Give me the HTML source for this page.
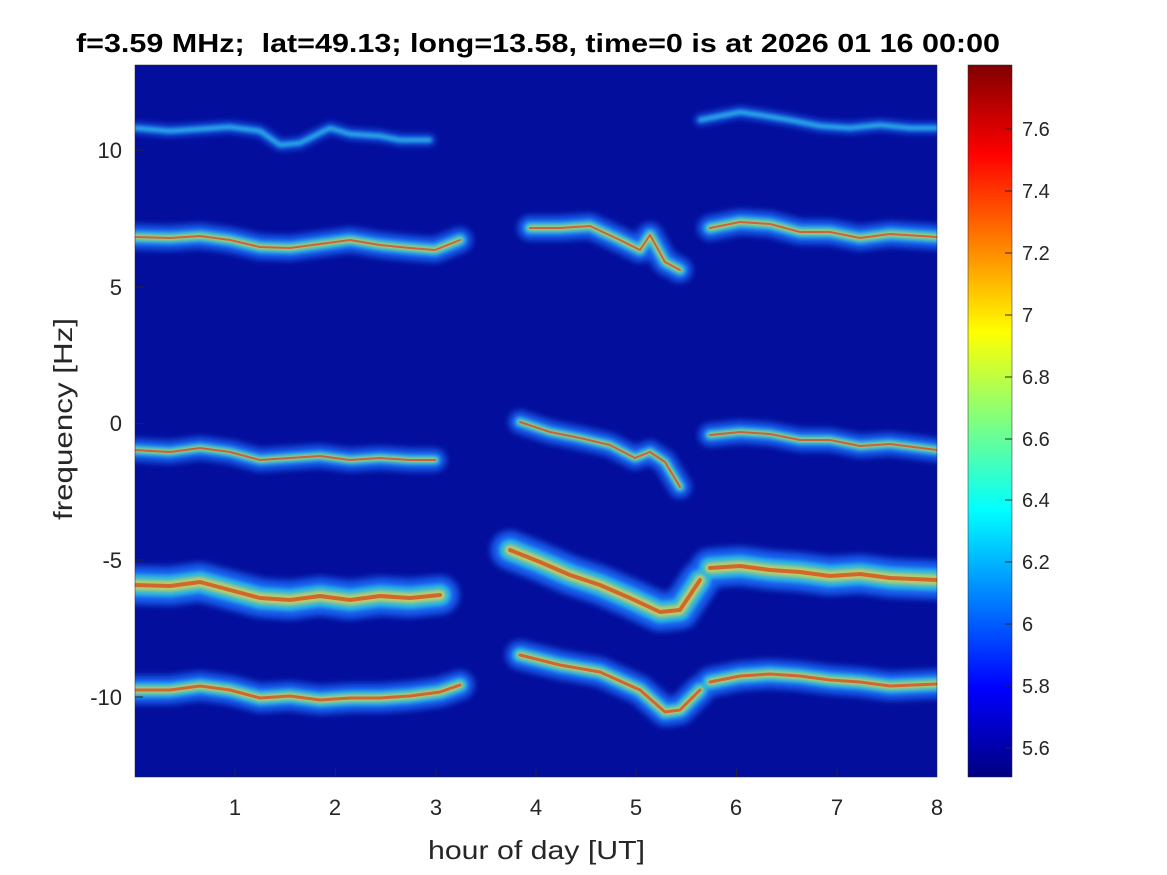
<!DOCTYPE html>
<html><head><meta charset="utf-8"><style>
body{margin:0;background:#fff;}
svg{display:block;font-family:"Liberation Sans",sans-serif;}
</style></head><body>
<svg width="1167" height="875" viewBox="0 0 1167 875">
<defs>
<filter id="b1" x="-10%" y="-50%" width="120%" height="200%"><feGaussianBlur stdDeviation="3.5"/></filter>
<filter id="b2" x="-10%" y="-50%" width="120%" height="200%"><feGaussianBlur stdDeviation="1.8"/></filter>
<linearGradient id="jet" x1="0" y1="1" x2="0" y2="0">
<stop offset="0" stop-color="#000080"/>
<stop offset="0.125" stop-color="#0000ff"/>
<stop offset="0.375" stop-color="#00ffff"/>
<stop offset="0.625" stop-color="#ffff00"/>
<stop offset="0.875" stop-color="#ff0000"/>
<stop offset="1" stop-color="#800000"/>
</linearGradient>
<clipPath id="c"><rect x="135" y="65" width="802" height="712"/></clipPath>
<g id="t1"><path d="M135,128 L170,131 L200,129 L230,127 L260,131 L280,145 L300,143 L330,128 L350,134 L380,136 L400,140 L430,140 M700,120 L740,112 L760,115 L790,120 L820,126 L850,128 L880,125 L910,128 L937,128"/></g>
<g id="t2"><path d="M135,237 L170,238 L200,236 L230,240 L260,247 L290,248 L320,244 L350,240 L380,245 L410,248 L435,250 L460,240 M530,228 L560,228 L590,226 L620,240 L640,250 L650,235 L665,262 L680,270 M710,228 L740,222 L770,224 L800,232 L830,232 L860,238 L890,234 L937,237"/></g>
<g id="t3"><path d="M135,450 L170,452 L200,448 L230,452 L260,460 L290,458 L320,456 L350,460 L380,458 L410,460 L435,460 M520,422 L550,432 L580,438 L610,445 L635,458 L650,452 L665,462 L680,487 M710,435 L740,432 L770,434 L800,440 L830,440 L860,446 L890,444 L937,450"/></g>
<g id="t4"><path d="M135,585 L170,586 L200,582 L230,590 L260,598 L290,600 L320,596 L350,600 L380,596 L410,598 L440,595 M510,550 L540,562 L570,575 L600,585 L630,598 L660,612 L680,610 L700,580 M710,568 L740,566 L770,570 L800,572 L830,576 L860,574 L890,578 L937,580"/></g>
<g id="t5"><path d="M135,690 L170,690 L200,686 L230,690 L260,698 L290,696 L320,700 L350,698 L380,698 L410,696 L440,692 L460,685 M520,655 L560,665 L600,672 L640,690 L665,712 L680,710 L700,690 M710,682 L740,676 L770,674 L800,676 L830,680 L860,682 L890,686 L937,684"/></g>
</defs>
<rect x="135" y="65" width="802" height="712" fill="#040e9c"/>
<g clip-path="url(#c)" fill="none" stroke-linecap="round" stroke-linejoin="round">
<g filter="url(#b1)" stroke="#1e6fff" opacity="0.85">
<use href="#t1" stroke-width="10"/><use href="#t2" stroke-width="24"/><use href="#t3" stroke-width="22"/><use href="#t4" stroke-width="38"/><use href="#t5" stroke-width="28"/>
</g>
<g filter="url(#b2)" stroke="#30d0e0" opacity="0.75">
<use href="#t1" stroke-width="4"/><use href="#t2" stroke-width="12"/><use href="#t3" stroke-width="10"/><use href="#t4" stroke-width="22"/><use href="#t5" stroke-width="15"/>
</g>
<g filter="url(#b2)" stroke="#e8d840" opacity="0.75">
<use href="#t2" stroke-width="5"/><use href="#t3" stroke-width="4"/><use href="#t4" stroke-width="11"/><use href="#t5" stroke-width="7"/>
</g>
<g stroke="#e03010" opacity="0.65">
<use href="#t2" stroke-width="2"/><use href="#t3" stroke-width="2"/><use href="#t4" stroke-width="4"/><use href="#t5" stroke-width="3"/>
</g>
</g>
<rect x="135" y="65" width="802" height="712" fill="none" stroke="#262626" stroke-width="0.5"/>
<g stroke="#262626" stroke-width="1">
<line x1="235" y1="777" x2="235" y2="769"/><line x1="335.5" y1="777" x2="335.5" y2="769"/><line x1="436" y1="777" x2="436" y2="769"/><line x1="536" y1="777" x2="536" y2="769"/><line x1="636" y1="777" x2="636" y2="769"/><line x1="736.5" y1="777" x2="736.5" y2="769"/><line x1="837" y1="777" x2="837" y2="769"/>
<line x1="135" y1="150" x2="143" y2="150"/><line x1="135" y1="287" x2="143" y2="287"/><line x1="135" y1="423.5" x2="143" y2="423.5"/><line x1="135" y1="560" x2="143" y2="560"/><line x1="135" y1="697" x2="143" y2="697"/>
</g>
<g font-size="22" fill="#262626" text-anchor="middle">
<text x="235" y="815">1</text><text x="335" y="815">2</text><text x="436" y="815">3</text><text x="536" y="815">4</text><text x="636" y="815">5</text><text x="736" y="815">6</text><text x="837" y="815">7</text><text x="937" y="815">8</text>
</g>
<g font-size="22" fill="#262626" text-anchor="end">
<text x="122" y="158">10</text><text x="122" y="295">5</text><text x="122" y="431">0</text><text x="122" y="568">-5</text><text x="122" y="705">-10</text>
</g>
<text x="428" y="859" font-size="26" fill="#262626" textLength="217" lengthAdjust="spacingAndGlyphs">hour of day [UT]</text>
<text transform="translate(72,520) rotate(-90)" font-size="26" fill="#262626" textLength="202" lengthAdjust="spacingAndGlyphs">frequency [Hz]</text>
<text x="76" y="52" font-size="26" font-weight="bold" fill="#000" xml:space="preserve" textLength="924" lengthAdjust="spacingAndGlyphs">f=3.59 MHz;  lat=49.13; long=13.58, time=0 is at 2026 01 16 00:00</text>
<rect x="968" y="65" width="44" height="712" fill="url(#jet)" stroke="#262626" stroke-width="0.5"/>
<g stroke="#262626"><line x1="1012" y1="129" x2="1005" y2="129"/><line x1="1012" y1="191" x2="1005" y2="191"/><line x1="1012" y1="253" x2="1005" y2="253"/><line x1="1012" y1="315" x2="1005" y2="315"/><line x1="1012" y1="377" x2="1005" y2="377"/><line x1="1012" y1="439" x2="1005" y2="439"/><line x1="1012" y1="500" x2="1005" y2="500"/><line x1="1012" y1="562" x2="1005" y2="562"/><line x1="1012" y1="624" x2="1005" y2="624"/><line x1="1012" y1="686" x2="1005" y2="686"/><line x1="1012" y1="748" x2="1005" y2="748"/></g>
<g font-size="20" fill="#262626">
<text x="1022" y="136">7.6</text><text x="1022" y="198">7.4</text><text x="1022" y="260">7.2</text><text x="1022" y="322">7</text><text x="1022" y="384">6.8</text><text x="1022" y="446">6.6</text><text x="1022" y="507">6.4</text><text x="1022" y="569">6.2</text><text x="1022" y="631">6</text><text x="1022" y="693">5.8</text><text x="1022" y="755">5.6</text>
</g>
</svg>
</body></html>
